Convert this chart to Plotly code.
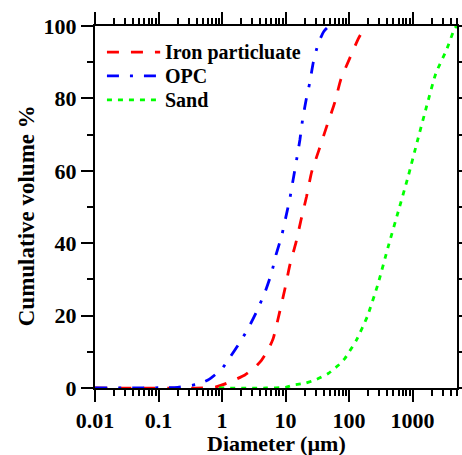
import plotly.graph_objects as go

# Cumulative particle size distributions (diameter in micrometres, cumulative volume %)
iron_d = [0.01, 0.5, 0.8, 1.18, 1.6, 2.29, 3.2, 4.2, 5.3, 6.4, 8.1, 9.8, 11.7, 14.5,
          17.5, 21.4, 25.7, 33.5, 44.3, 59.8, 74, 103, 140, 175]
iron_v = [0, 0, 0.3, 1.3, 2.3, 3.6, 5.5, 7.7, 10.5, 13.7, 21.1, 27.5, 34, 40,
          46.4, 52.9, 59.6, 65.7, 72.2, 79, 85.2, 91.2, 96.5, 99.5]

opc_d = [0.01, 0.2, 0.4, 0.6, 0.77, 1.0, 1.22, 1.8, 2.59, 3.5, 4.73, 6.0, 7.05, 8.7,
         10.1, 11.7, 13.2, 14.9, 16.8, 18.5, 20.9, 24.2, 27.3, 32.7, 40, 47]
opc_v = [0, 0.2, 1.0, 2.2, 3.6, 5.3, 7.5, 11.9, 16.5, 21.1, 26.4, 31.7, 36.7, 42.1,
         47.2, 52.4, 57.7, 63, 68.5, 74, 79.3, 84.6, 89.9, 95.2, 98.5, 99.8]

sand_d = [0.9, 5, 10, 13.2, 20, 31, 47, 67, 86, 131, 193, 287, 412, 593, 851,
          1180, 1655, 2320, 3420, 4620, 5000]
sand_v = [0, 0, 0.2, 0.8, 1.3, 2.4, 4.0, 6.2, 8.2, 13.3, 19.7, 28.9, 39, 48.7, 58.4,
          68, 77.7, 86.9, 93.4, 99.4, 100]

series_names = ["Iron particluate", "OPC", "Sand"]
series_colors = ["#ff0000", "#0000ff", "#00ff00"]
series_dashes = ["12px,12px", "12px,11px,3px,11px", "5px,6px"]

x_tick_vals = [0.01, 0.1, 1, 10, 100, 1000]
x_tick_text = ["0.01", "0.1", "1", "10", "100", "1000"]
x_minor_vals = [m * 10 ** e for e in range(-2, 4) for m in range(2, 10) if m * 10 ** e <= 5000]
y_tick_vals = [0, 20, 40, 60, 80, 100]

FONT = "Liberation Serif, Times New Roman, serif"

fig = go.Figure()
for d, v, name, color, dash in zip([iron_d, opc_d, sand_d], [iron_v, opc_v, sand_v],
                                   series_names, series_colors, series_dashes):
    fig.add_trace(go.Scatter(x=d, y=v, mode="lines", name=name, showlegend=False,
                             line=dict(color=color, width=2.8, dash=dash,
                                       shape="spline", smoothing=0.5)))

# Legend drawn as sample lines plus labels in the upper-left corner of the plot
legend_rows = [0.928, 0.862, 0.796]
for row, name, color, dash in zip(legend_rows, series_names, series_colors, series_dashes):
    fig.add_shape(type="line", xref="paper", yref="paper",
                  x0=0.033, x1=0.18, y0=row, y1=row,
                  line=dict(color=color, width=2.8, dash=dash))
    fig.add_annotation(xref="paper", yref="paper", x=0.188, y=row,
                       xanchor="left", yanchor="middle", showarrow=False, text=name,
                       font=dict(family=FONT, size=20, color="black", weight="bold"))

axis_common = dict(
    showline=True, linecolor="black", linewidth=2, mirror="ticks",
    ticks="outside", ticklen=12, tickwidth=2, tickcolor="black",
    showgrid=False, zeroline=False, automargin=False,
    tickfont=dict(family=FONT, size=22, color="black", weight="bold"),
    layer="below traces",
)

fig.update_xaxes(
    type="log", range=[-2, 3.69897],
    tickmode="array", tickvals=x_tick_vals, ticktext=x_tick_text,
    minor=dict(tickmode="array", tickvals=x_minor_vals, ticks="outside",
               ticklen=6, tickwidth=2, tickcolor="black", showgrid=False),
    **axis_common,
)
fig.update_yaxes(
    range=[0, 100], tickmode="array", tickvals=y_tick_vals,
    minor=dict(dtick=10, tick0=0, ticks="outside", ticklen=6, tickwidth=2,
               tickcolor="black", showgrid=False),
    **axis_common,
)

fig.add_annotation(xref="paper", yref="paper", x=0.5, y=-0.152,
                   xanchor="center", yanchor="middle", showarrow=False, borderpad=0,
                   text="Diameter (\u00b5m)",
                   font=dict(family=FONT, size=22, color="black", weight="bold"))
fig.add_annotation(xref="paper", yref="paper", x=-0.19, y=0.475,
                   xanchor="center", yanchor="middle", showarrow=False, textangle=-90,
                   text="Cumulative volume %",
                   font=dict(family=FONT, size=23, color="black", weight="bold"))

fig.update_layout(
    width=462, height=455,
    margin=dict(l=95, r=5, t=26, b=67),
    paper_bgcolor="white", plot_bgcolor="white",
    showlegend=False,
)

fig.write_html("out.html")
